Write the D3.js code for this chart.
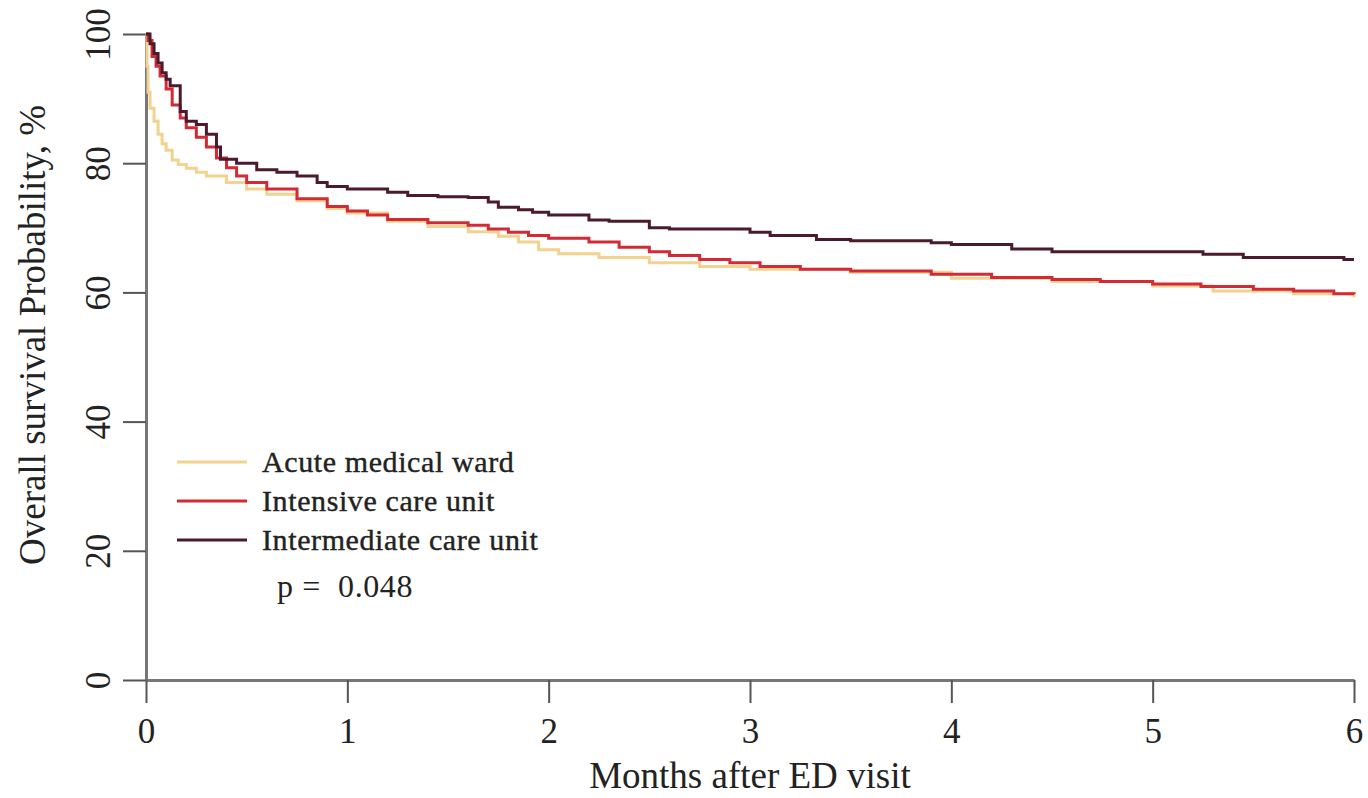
<!DOCTYPE html>
<html>
<head>
<meta charset="utf-8">
<script src="https://cdn.jsdelivr.net/npm/d3@7"></script>
<style>
  body { margin: 0; background: white; }
  text { font-family: "Liberation Serif", "Times New Roman", serif; fill: #222; }
</style>
</head>
<body>
<div id="d3-container"></div>
<script>
// survival curves (months, % surviving)
const acuteTime = [0, 0.005, 0.01, 0.02, 0.04, 0.06, 0.08, 0.1, 0.13, 0.16, 0.2, 0.25, 0.3, 0.4, 0.5, 0.6, 0.75, 0.9, 1.0, 1.2, 1.4, 1.6, 1.75, 1.85, 1.95, 2.05, 2.25, 2.5, 2.75, 3.0, 3.5, 4.0, 4.5, 5.0, 5.3, 5.7, 6.0];
const acuteSurv = [100, 95, 91, 88.5, 86.5, 84.5, 83, 82, 80.5, 79.8, 79.2, 78.6, 78, 77, 76, 75.2, 74.2, 73, 72.3, 71, 70.2, 69.4, 68.7, 67.8, 66.6, 66, 65.4, 64.6, 64, 63.6, 63.1, 62.2, 61.7, 61, 60.2, 59.8, 59.2];

const icuTime = [0, 0.01, 0.03, 0.05, 0.07, 0.1, 0.13, 0.17, 0.2, 0.25, 0.3, 0.35, 0.4, 0.45, 0.5, 0.6, 0.75, 0.9, 1.0, 1.1, 1.2, 1.4, 1.6, 1.7, 1.8, 1.9, 2.0, 2.2, 2.35, 2.5, 2.6, 2.75, 2.9, 3.05, 3.25, 3.5, 3.9, 4.2, 4.5, 4.74, 5.0, 5.24, 5.5, 5.7, 5.9, 6.0];
const icuSurv = [100, 99, 96.5, 95, 93.5, 91.5, 89, 87, 85.5, 84, 82.5, 80.8, 79.3, 78, 77, 76, 74.5, 73.3, 72.6, 72, 71.3, 70.8, 70.4, 69.8, 69.3, 68.8, 68.4, 67.8, 67, 66.3, 65.7, 65.1, 64.6, 64, 63.6, 63.3, 62.8, 62.3, 62, 61.7, 61.3, 60.9, 60.5, 60.2, 59.8, 59.7];

const imcuTime = [0, 0.02, 0.04, 0.06, 0.08, 0.1, 0.12, 0.17, 0.2, 0.25, 0.3, 0.35, 0.37, 0.45, 0.55, 0.65, 0.75, 0.85, 0.9, 1.0, 1.2, 1.3, 1.45, 1.6, 1.7, 1.75, 1.85, 1.92, 2.0, 2.2, 2.3, 2.5, 2.6, 3.0, 3.1, 3.33, 3.5, 3.9, 4.0, 4.3, 4.5, 5.25, 5.45, 5.95, 6.0];
const imcuSurv = [100, 98.5, 97, 95.5, 94, 93, 92, 88, 86.5, 86, 84.5, 82.5, 80.6, 80, 79, 78.6, 78, 77, 76.4, 76, 75.5, 75, 74.8, 74.7, 74, 73.2, 72.8, 72.4, 72, 71.2, 71, 70, 69.8, 69.3, 68.8, 68.2, 68, 67.7, 67.4, 66.7, 66.3, 65.9, 65.4, 65.1, 65.1];

const seriesNames = ["Acute medical ward", "Intensive care unit", "Intermediate care unit"];
const seriesColors = ["#f2d28e", "#d42a35", "#4b1a2e"];
const xTicks = [0, 1, 2, 3, 4, 5, 6];
const yTicks = [0, 20, 40, 60, 80, 100];
const pValue = "p =  0.048";

let width = 1368,
  height = 798;

let svg1 = d3.select('#d3-container')
  .append('svg')
  .attr('width', width)
  .attr('height', height)
  .style('background-color', 'white');

const x = d3.scaleLinear().domain([0, 6]).range([146, 1354]);
const y = d3.scaleLinear().domain([0, 100]).range([680, 34]);

// X axis
const xAxis = svg1.append("g")
  .attr("transform", `translate(0, ${y(0)})`)
  .call(d3.axisBottom(x).tickValues(xTicks).tickSize(23).tickSizeOuter(0).tickFormat(d3.format("d")));
xAxis.select(".domain").attr("stroke", "#777").attr("stroke-width", 3);
xAxis.selectAll(".tick line").attr("stroke", "#555").attr("stroke-width", 2);
xAxis.selectAll("text")
  .attr("y", 63)
  .attr("dy", 0)
  .style("font-size", "35px")
  .style("font-family", "'Liberation Serif', serif")
  .attr("fill", "#222");

// Y axis, labels turned like base R
const yAxis = svg1.append("g")
  .attr("transform", `translate(${x(0)}, 0)`)
  .call(d3.axisLeft(y).tickValues(yTicks).tickSize(23).tickSizeOuter(0));
yAxis.select(".domain").attr("stroke", "#777").attr("stroke-width", 3);
yAxis.selectAll(".tick line").attr("stroke", "#555").attr("stroke-width", 2);
yAxis.selectAll("text")
  .attr("transform", "rotate(-90)")
  .attr("x", 0)
  .attr("y", -36)
  .attr("dy", 0)
  .attr("text-anchor", "middle")
  .style("font-size", "35px")
  .style("font-family", "'Liberation Serif', serif")
  .attr("fill", "#222");

// axis titles
svg1.append("text")
  .attr("x", x(3))
  .attr("y", 788)
  .attr("text-anchor", "middle")
  .style("font-size", "37px")
  .text("Months after ED visit");

svg1.append("text")
  .attr("transform", "translate(45, 335) rotate(-90)")
  .attr("text-anchor", "middle")
  .style("font-size", "37px")
  .text("Overall survival Probability, %");

// step curves
const series = [
  { t: acuteTime, s: acuteSurv },
  { t: icuTime, s: icuSurv },
  { t: imcuTime, s: imcuSurv }
];

const line = d3.line()
  .x(d => x(d[0]))
  .y(d => y(d[1]))
  .curve(d3.curveStepAfter);

svg1.selectAll(".km")
  .data(series)
  .join("path")
    .attr("class", "km")
    .attr("fill", "none")
    .attr("stroke", (d, i) => seriesColors[i])
    .attr("stroke-width", 3)
    .attr("d", d => line(d.t.map((t, j) => [t, d.s[j]])));

// legend
const legend = svg1.append("g");
seriesNames.forEach((name, i) => {
  const ly = 462 + i * 39;
  legend.append("line")
    .attr("x1", 177).attr("x2", 247)
    .attr("y1", ly).attr("y2", ly)
    .attr("stroke", seriesColors[i])
    .attr("stroke-width", 3);
  legend.append("text")
    .attr("x", 262)
    .attr("y", ly + 10)
    .style("font-size", "30px")
    .style("letter-spacing", "0.6px")
    .attr("stroke", "#222")
    .attr("stroke-width", 0.4)
    .text(name);
});

svg1.append("text")
  .attr("x", 277)
  .attr("y", 597)
  .style("font-size", "32px")
  .style("letter-spacing", "0.6px")
  .style("white-space", "pre")
  .attr("xml:space", "preserve")
  .text(pValue);
</script>
</body>
</html>
